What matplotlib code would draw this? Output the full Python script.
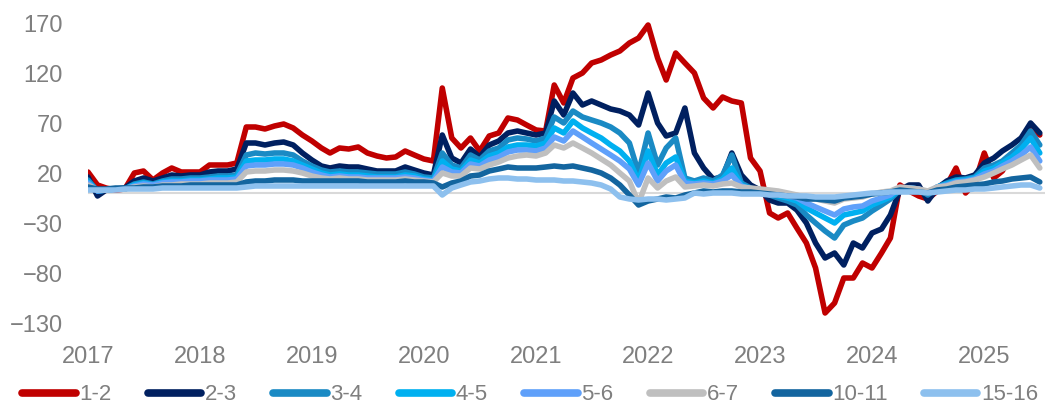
import pandas as pd
import matplotlib
matplotlib.use("Agg")
import matplotlib.pyplot as plt
import matplotlib.dates as mdates

# fechas mensuales ene-2017 .. jul-2025
fechas = pd.date_range("2017-01-01", periods=103, freq="MS")

etiquetas = ["1-2", "2-3", "3-4", "4-5", "5-6", "6-7", "10-11", "15-16"]
colores = ["#C00000", "#002060", "#1A8AC4", "#00B0F0", "#5FA0FA", "#BFBFBF", "#13659F", "#8DC0EE"]

s_1_2 = [21, 8, 5, 3, 4, 20, 22, 13, 20, 25, 21, 21,
         21, 28, 28, 28, 30, 66, 66, 64, 67, 69, 65, 58,
         52, 45, 40, 45, 44, 46, 40, 37, 35, 36, 42, 38,
         34, 32, 105, 55, 45, 55, 42, 57, 60, 75, 73, 68,
         63, 62, 108, 90, 115, 120, 130, 133, 138, 142, 150, 155,
         168, 135, 113, 140, 130, 120, 95, 85, 96, 92, 90, 35,
         22, -20, -25, -20, -35, -50, -75, -120, -110, -85, -85, -70,
         -75, -60, -45, 8, 2, -3, -6, 2, 8, 25, 0, 10,
         40, 15, 22, 38, 45, 65, 58]
s_2_3 = [16, -3, 3, 4, 5, 12, 15, 12, 15, 18, 17, 18,
         18, 21, 22, 22, 24, 50, 50, 48, 50, 51, 48, 40,
         33, 27, 25, 27, 26, 26, 24, 22, 22, 22, 26, 23,
         20, 18, 58, 35, 30, 44, 36, 48, 52, 60, 62, 60,
         58, 60, 92, 78, 100, 88, 92, 88, 84, 82, 78, 68,
         100, 70, 57, 60, 85, 40, 25, 14, 16, 40, 18, 8,
         3, -7, -10, -10, -17, -30, -50, -65, -60, -72, -50, -55,
         -40, -36, -22, 3, 8, 8, -8, 5, 12, 16, 15, 18,
         30, 35, 42, 48, 55, 70, 60]
s_3_4 = [13, 2, 3, 4, 4, 9, 11, 9, 12, 14, 14, 15,
         15, 16, 17, 17, 18, 38, 40, 39, 40, 40, 38, 32,
         27, 23, 21, 22, 21, 21, 20, 19, 19, 19, 21, 19,
         16, 15, 40, 28, 25, 38, 33, 42, 45, 53, 55, 54,
         52, 55, 76, 70, 82, 76, 73, 70, 66, 60, 50, 20,
         60, 28, 45, 55, 15, 12, 15, 12, 18, 38, 10, 5,
         2, -2, -5, -8, -12, -22, -30, -38, -45, -32, -28, -25,
         -18, -12, -6, 3, 5, 4, -2, 6, 10, 13, 14, 16,
         25, 28, 32, 40, 48, 62, 48]
s_4_5 = [11, 2, 3, 4, 4, 8, 10, 8, 11, 12, 12, 13,
         13, 14, 15, 15, 16, 32, 33, 33, 34, 34, 32, 28,
         24, 20, 18, 19, 18, 18, 17, 16, 16, 16, 18, 17,
         14, 13, 32, 24, 22, 33, 30, 37, 40, 46, 48, 48,
         47, 50, 65, 60, 72, 65, 60, 55, 48, 42, 32, 12,
         42, 18, 30, 36, 12, 10, 12, 10, 14, 25, 8, 4,
         2, 0, -3, -5, -8, -15, -20, -25, -30, -22, -20, -18,
         -12, -8, -4, 4, 5, 4, 0, 6, 9, 12, 13, 15,
         22, 25, 30, 36, 44, 55, 40]
s_5_6 = [10, 2, 3, 4, 4, 7, 9, 8, 10, 11, 11, 12,
         12, 13, 13, 13, 14, 27, 28, 28, 29, 29, 28, 25,
         21, 18, 16, 17, 16, 16, 15, 15, 15, 15, 16, 15,
         13, 12, 26, 21, 20, 29, 27, 33, 36, 41, 43, 43,
         42, 45, 56, 52, 62, 56, 50, 44, 38, 32, 24, 8,
         30, 12, 22, 28, 10, 9, 10, 9, 12, 18, 7, 4,
         2, 1, -1, -3, -5, -10, -14, -18, -22, -16, -14, -13,
         -8, -5, -2, 5, 5, 4, 1, 6, 8, 11, 12, 14,
         19, 22, 27, 32, 38, 46, 32]
s_6_7 = [8, 3, 3, 4, 4, 6, 7, 6, 8, 8, 9, 9,
         9, 10, 10, 10, 11, 21, 22, 22, 23, 23, 22, 20,
         17, 15, 14, 15, 14, 14, 13, 13, 13, 13, 14, 13,
         12, 11, 20, 17, 17, 25, 24, 28, 31, 35, 37, 38,
         37, 40, 48, 45, 50, 45, 40, 34, 28, 20, 12, -10,
         15, 5, 12, 16, 6, 7, 8, 7, 9, 10, 6, 5,
         4, 3, 2, 0, -2, -5, -6, -8, -10, -6, -5, -4,
         -1, 1, 2, 6, 5, 4, 2, 6, 7, 10, 11, 13,
         16, 20, 24, 28, 33, 38, 25]
s_10_11 = [6, 4, 4, 5, 5, 5, 6, 6, 7, 7, 7, 8,
           8, 8, 8, 8, 8, 11, 12, 12, 13, 13, 13, 12,
           12, 12, 12, 12, 12, 12, 11, 11, 11, 11, 12, 11,
           11, 10, 6, 10, 12, 17, 18, 22, 24, 26, 25, 25,
           25, 26, 27, 26, 27, 25, 23, 20, 15, 8, -2, -12,
           -8, -6, -4, -5, -2, 0, 2, 1, 2, 2, 1, 1,
           0, -1, -2, -3, -4, -6, -6, -7, -8, -5, -4, -3,
           -1, 0, 1, 3, 2, 1, 0, 3, 4, 6, 7, 8,
           9, 11, 12, 14, 15, 16, 11]
s_15_16 = [3, 3, 3, 3, 4, 4, 4, 4, 5, 5, 5, 5,
           5, 5, 5, 5, 5, 6, 7, 7, 7, 7, 7, 7,
           7, 7, 7, 7, 7, 7, 7, 7, 7, 7, 7, 7,
           7, 7, -2, 5, 8, 11, 12, 14, 15, 15, 14, 14,
           13, 13, 13, 12, 12, 11, 10, 8, 4, -4, -6, -7,
           -6, -6, -7, -6, -5, 0, -1, 0, 0, 0, -1, -1,
           -1, -2, -2, -3, -3, -3, -4, -4, -4, -3, -2, -1,
           0, 0, 1, 1, 1, 1, 0, 1, 2, 3, 3, 4,
           4, 5, 6, 7, 8, 8, 5]

series = [s_1_2, s_2_3, s_3_4, s_4_5, s_5_6, s_6_7, s_10_11, s_15_16]

plt.rcParams["font.family"] = ["Liberation Sans", "DejaVu Sans"]
gris = "#7F7F7F"

fig = plt.figure(figsize=(10.56, 4.08), dpi=100)
ax = fig.add_axes([88 / 1056, 70 / 408, (1045 - 88) / 1056, 335 / 408])

ax.axhline(0, color="#D9D9D9", lw=1.5, zorder=1)
for valores, etiqueta, color in zip(series, etiquetas, colores):
    ax.plot(fechas, valores, color=color, lw=4.0, label=etiqueta,
            solid_capstyle="round", solid_joinstyle="round", zorder=2)

ax.set_ylim(-145, 190)
ax.set_yticks(range(-130, 171, 50))
ax.set_xlim(pd.Timestamp("2017-01-01"), pd.Timestamp("2025-07-18"))
ax.xaxis.set_major_locator(mdates.YearLocator())
ax.xaxis.set_major_formatter(mdates.DateFormatter("%Y"))

for lado in ["top", "right", "bottom", "left"]:
    ax.spines[lado].set_visible(False)
ax.tick_params(axis="y", length=0, pad=18, labelsize=17, labelcolor=gris)
ax.tick_params(axis="x", length=0, pad=6, labelsize=17, labelcolor=gris)

leg = fig.legend(loc="center", bbox_to_anchor=(0.502, 13 / 408), ncol=8, frameon=False,
                 fontsize=16, handlelength=2.4, handletextpad=0.15, columnspacing=1.65)
for h in leg.get_lines():
    h.set_linewidth(5.5)
for t in leg.get_texts():
    t.set_color(gris)

fig.savefig("out.png", dpi=100)
